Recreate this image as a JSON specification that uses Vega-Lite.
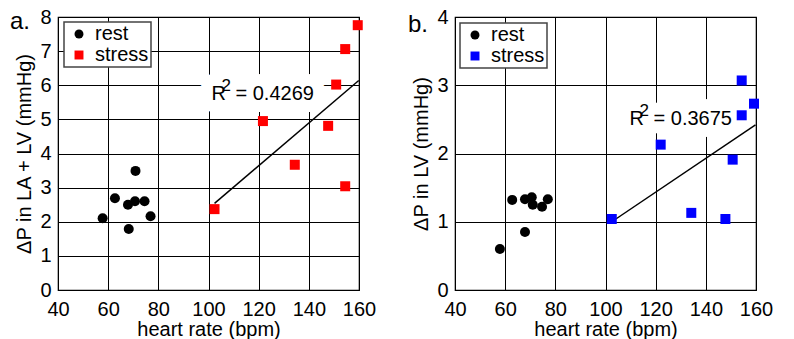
{
  "$schema": "https://vega.github.io/schema/vega-lite/v6.json",
  "autosize": {"type": "pad"},
  "padding": {"left": 9, "top": 6, "right": 0, "bottom": 0},
  "background": "white",
  "config": {
    "font": "Liberation Sans",
    "view": {"stroke": "black", "strokeWidth": 1.2},
    "axis": {
      "labelFont": "Liberation Sans", "labelFontSize": 20, "labelColor": "black",
      "titleFont": "Liberation Sans", "titleFontSize": 20, "titleFontWeight": "normal", "titleColor": "black",
      "grid": true, "gridColor": "black", "gridOpacity": 1, "gridWidth": 1,
      "domain": false, "ticks": false, "tickSize": 0, "labelFlush": false, "labelOverlap": false
    },
    "axisX": {"labelPadding": 9, "titlePadding": 0},
    "axisY": {"labelPadding": 7, "titlePadding": 5},
    "legend": {
      "orient": "none", "title": null,
      "labelFont": "Liberation Sans", "labelFontSize": 20, "labelColor": "black",
      "fillColor": "white", "strokeColor": "#444", "strokeWidth": 1.5,
      "padding": 2, "rowPadding": 1, "symbolOffset": 3, "labelOffset": 6,
      "symbolSize": 80, "symbolStrokeWidth": 0,
      "labelExpr": "datum.label + ' '"
    }
  },
  "datasets": {
    "a": [
      {"group": "rest", "hr": 57.8, "dp": 2.10},
      {"group": "rest", "hr": 62.7, "dp": 2.69},
      {"group": "rest", "hr": 67.9, "dp": 2.50},
      {"group": "rest", "hr": 68.2, "dp": 1.79},
      {"group": "rest", "hr": 70.7, "dp": 2.60},
      {"group": "rest", "hr": 70.9, "dp": 3.49},
      {"group": "rest", "hr": 74.5, "dp": 2.60},
      {"group": "rest", "hr": 76.9, "dp": 2.16},
      {"group": "stress", "hr": 102.4, "dp": 2.37},
      {"group": "stress", "hr": 121.7, "dp": 4.95},
      {"group": "stress", "hr": 134.4, "dp": 3.67},
      {"group": "stress", "hr": 147.7, "dp": 4.81},
      {"group": "stress", "hr": 150.9, "dp": 6.02},
      {"group": "stress", "hr": 154.5, "dp": 7.06},
      {"group": "stress", "hr": 154.5, "dp": 3.04},
      {"group": "stress", "hr": 159.5, "dp": 7.76}
    ],
    "b": [
      {"group": "rest", "hr": 57.9, "dp": 0.60},
      {"group": "rest", "hr": 62.8, "dp": 1.32},
      {"group": "rest", "hr": 67.9, "dp": 0.85},
      {"group": "rest", "hr": 67.9, "dp": 1.33},
      {"group": "rest", "hr": 70.6, "dp": 1.36},
      {"group": "rest", "hr": 71.0, "dp": 1.25},
      {"group": "rest", "hr": 74.7, "dp": 1.22},
      {"group": "rest", "hr": 77.0, "dp": 1.33},
      {"group": "stress", "hr": 102.5, "dp": 1.04},
      {"group": "stress", "hr": 122.0, "dp": 2.13},
      {"group": "stress", "hr": 134.2, "dp": 1.13},
      {"group": "stress", "hr": 147.8, "dp": 1.04},
      {"group": "stress", "hr": 150.7, "dp": 1.91},
      {"group": "stress", "hr": 154.3, "dp": 3.07},
      {"group": "stress", "hr": 154.3, "dp": 2.56},
      {"group": "stress", "hr": 159.2, "dp": 2.73}
    ],
    "trendA": [{"hr": 102.4, "dp": 2.54}, {"hr": 159.9, "dp": 6.14}],
    "trendB": [{"hr": 102.5, "dp": 1.00}, {"hr": 159.8, "dp": 2.42}],
    "r2A": [{"hr": 101.2, "dp": 5.58, "r": "R", "sup": "2", "rest": "= 0.4269"}],
    "r2B": [{"hr": 109.6, "dp": 2.42, "r": "R", "sup": "2", "rest": "= 0.3675"}],
    "lblA": [{"hr": 40, "dp": 8, "t": "a."}],
    "lblB": [{"hr": 40, "dp": 4, "t": "b."}]
  },
  "hconcat": [
    {
      "width": 301, "height": 273,
      "encoding": {
        "x": {"field": "hr", "type": "quantitative", "title": "heart rate (bpm)",
              "scale": {"domain": [40, 160], "nice": false},
              "axis": {"values": [40, 60, 80, 100, 120, 140, 160]}},
        "y": {"field": "dp", "type": "quantitative", "title": "ΔP in LA + LV (mmHg)",
              "scale": {"domain": [0, 8], "nice": false},
              "axis": {"values": [0, 1, 2, 3, 4, 5, 6, 7, 8]}}
      },
      "layer": [
        {"data": {"name": "r2A"}, "mark": {"type": "text", "align": "left", "baseline": "alphabetic", "fontSize": 20, "stroke": "white", "strokeWidth": 24, "strokeJoin": "round", "fill": "white"}, "encoding": {"text": {"field": "r"}}},
        {"data": {"name": "r2A"}, "mark": {"type": "text", "align": "left", "baseline": "alphabetic", "fontSize": 20, "dx": 24, "stroke": "white", "strokeWidth": 24, "strokeJoin": "round", "fill": "white"}, "encoding": {"text": {"field": "rest"}}},
        {"data": {"name": "r2A"}, "mark": {"type": "text", "align": "left", "baseline": "alphabetic", "fontSize": 20, "color": "black"}, "encoding": {"text": {"field": "r"}}},
        {"data": {"name": "r2A"}, "mark": {"type": "text", "align": "left", "baseline": "alphabetic", "fontSize": 17, "dx": 10, "dy": -9, "color": "black"}, "encoding": {"text": {"field": "sup"}}},
        {"data": {"name": "r2A"}, "mark": {"type": "text", "align": "left", "baseline": "alphabetic", "fontSize": 20, "dx": 24, "color": "black"}, "encoding": {"text": {"field": "rest"}}},
        {"data": {"name": "trendA"}, "mark": {"type": "line", "color": "black", "strokeWidth": 1.5}},
        {"data": {"name": "a"}, "mark": {"type": "point", "filled": true, "opacity": 1, "size": 100},
         "encoding": {
           "color": {"field": "group", "type": "nominal", "scale": {"domain": ["rest", "stress"], "range": ["black", "#ff0000"]},
                     "legend": {"legendX": 6, "legendY": 5}},
           "shape": {"field": "group", "type": "nominal", "scale": {"domain": ["rest", "stress"], "range": ["circle", "square"]},
                     "legend": {"legendX": 6, "legendY": 5}}
         }},
        {"data": {"name": "lblA"}, "mark": {"type": "text", "align": "right", "baseline": "alphabetic", "fontSize": 24, "dx": -28, "dy": 12, "color": "black"}, "encoding": {"text": {"field": "t"}}}
      ]
    },
    {
      "width": 301, "height": 273,
      "encoding": {
        "x": {"field": "hr", "type": "quantitative", "title": "heart rate (bpm)",
              "scale": {"domain": [40, 160], "nice": false},
              "axis": {"values": [40, 60, 80, 100, 120, 140, 160]}},
        "y": {"field": "dp", "type": "quantitative", "title": "ΔP in LV (mmHg)",
              "scale": {"domain": [0, 4], "nice": false},
              "axis": {"values": [0, 1, 2, 3, 4]}}
      },
      "layer": [
        {"data": {"name": "r2B"}, "mark": {"type": "text", "align": "left", "baseline": "alphabetic", "fontSize": 20, "stroke": "white", "strokeWidth": 24, "strokeJoin": "round", "fill": "white"}, "encoding": {"text": {"field": "r"}}},
        {"data": {"name": "r2B"}, "mark": {"type": "text", "align": "left", "baseline": "alphabetic", "fontSize": 20, "dx": 24, "stroke": "white", "strokeWidth": 24, "strokeJoin": "round", "fill": "white"}, "encoding": {"text": {"field": "rest"}}},
        {"data": {"name": "r2B"}, "mark": {"type": "text", "align": "left", "baseline": "alphabetic", "fontSize": 20, "color": "black"}, "encoding": {"text": {"field": "r"}}},
        {"data": {"name": "r2B"}, "mark": {"type": "text", "align": "left", "baseline": "alphabetic", "fontSize": 17, "dx": 10, "dy": -9, "color": "black"}, "encoding": {"text": {"field": "sup"}}},
        {"data": {"name": "r2B"}, "mark": {"type": "text", "align": "left", "baseline": "alphabetic", "fontSize": 20, "dx": 24, "color": "black"}, "encoding": {"text": {"field": "rest"}}},
        {"data": {"name": "trendB"}, "mark": {"type": "line", "color": "black", "strokeWidth": 1.5}},
        {"data": {"name": "b"}, "mark": {"type": "point", "filled": true, "opacity": 1, "size": 100},
         "encoding": {
           "color": {"field": "group", "type": "nominal", "scale": {"domain": ["rest", "stress"], "range": ["black", "#0000ff"]},
                     "legend": {"legendX": 5, "legendY": 6}},
           "shape": {"field": "group", "type": "nominal", "scale": {"domain": ["rest", "stress"], "range": ["circle", "square"]},
                     "legend": {"legendX": 5, "legendY": 6}}
         }},
        {"data": {"name": "lblB"}, "mark": {"type": "text", "align": "right", "baseline": "alphabetic", "fontSize": 24, "dx": -27, "dy": 15, "color": "black"}, "encoding": {"text": {"field": "t"}}}
      ]
    }
  ],
  "bounds": "flush",
  "spacing": 96,
  "resolve": {
    "scale": {"color": "independent", "shape": "independent", "x": "independent", "y": "independent"},
    "legend": {"color": "independent", "shape": "independent"}
  }
}
